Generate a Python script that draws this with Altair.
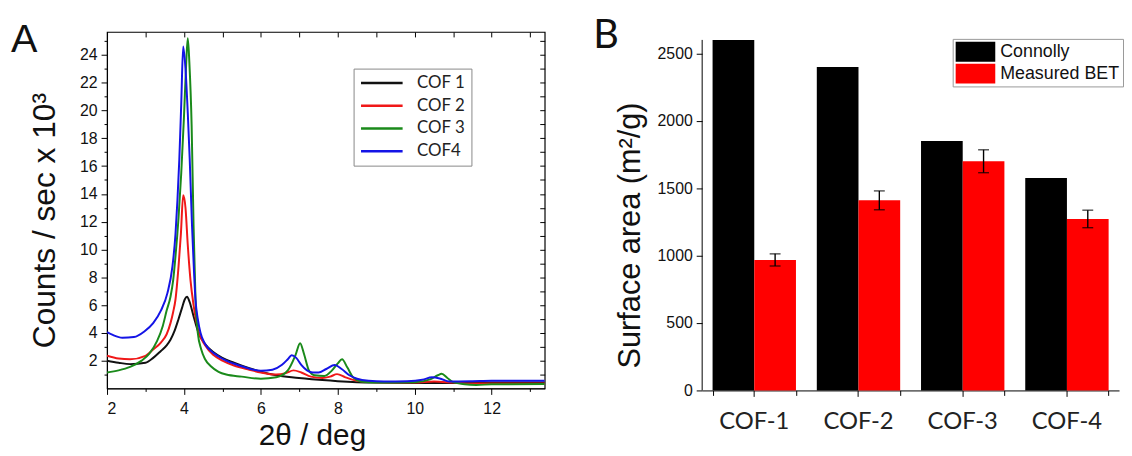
import altair as alt
import pandas as pd

# ---------------- Panel A data (XRD patterns) ----------------
cof1_x = [2.0, 2.3, 2.6, 3.0, 3.2, 3.4, 3.55, 3.65, 3.75, 3.86, 3.95, 4.02, 4.08, 4.15, 4.25, 4.38, 4.55,
          4.77, 5.0, 5.3, 5.7, 6.0, 6.4, 6.8, 7.2, 7.6, 8.0, 8.5, 9.0, 10.0, 11.0, 12.0, 13.38]
cof1_y = [2.0, 1.85, 1.75, 1.85, 2.2, 2.7, 3.1, 3.5, 4.1, 5.0, 5.8, 6.4, 6.6, 6.2, 5.2, 4.0, 3.2,
          2.6, 2.2, 1.85, 1.45, 1.2, 0.95, 0.8, 0.7, 0.6, 0.52, 0.45, 0.42, 0.4, 0.4, 0.42, 0.42]

cof2_x = [2.0, 2.3, 2.6, 3.0, 3.2, 3.4, 3.55, 3.65, 3.72, 3.78, 3.86, 3.92, 3.98, 4.04, 4.1, 4.17, 4.25,
          4.38, 4.55, 4.77, 5.0, 5.3, 5.7, 6.0, 6.4, 6.65, 6.85, 7.05, 7.3, 7.6, 7.8, 7.98, 8.2, 8.5,
          9.0, 10.0, 10.5, 11.0, 11.5, 12.0, 13.38]
cof2_y = [2.35, 2.15, 2.1, 2.35, 2.8, 3.3, 3.9, 4.7, 5.5, 6.4, 8.8, 11.1, 13.9, 13.0, 10.3, 7.8, 6.0,
          4.1, 3.1, 2.4, 2.0, 1.65, 1.35, 1.15, 1.0, 1.1, 1.3, 1.15, 0.85, 0.75, 0.85, 1.03, 0.8, 0.55,
          0.45, 0.42, 0.5, 0.42, 0.35, 0.35, 0.35]

cof3_x = [2.0, 2.3, 2.6, 2.9, 3.1, 3.3, 3.45, 3.55, 3.65, 3.72, 3.78, 3.86, 3.93, 4.0, 4.06, 4.1, 4.14,
          4.2, 4.25, 4.3, 4.36, 4.45, 4.55, 4.7, 4.9, 5.1, 5.5, 6.0, 6.4, 6.7, 6.9, 7.02, 7.12, 7.25,
          7.4, 7.65, 7.85, 8.0, 8.11, 8.25, 8.4, 8.6, 9.0, 10.0, 10.4, 10.6, 10.7, 10.85, 11.0, 11.3,
          11.6, 12.0, 13.38]
cof3_y = [1.15, 1.3, 1.55, 2.0, 2.5, 3.4, 4.5, 5.6, 6.6, 7.8, 9.5, 12.3, 15.5, 19.5, 23.5, 25.2, 23.5,
          18.9, 11.7, 6.5, 4.0, 2.8, 2.1, 1.6, 1.2, 1.0, 0.85, 0.7, 0.8, 1.3, 2.4, 3.25, 2.5, 1.3,
          0.95, 0.9, 1.3, 1.8, 2.1, 1.5, 0.8, 0.5, 0.42, 0.45, 0.65, 0.95, 1.05, 0.75, 0.45, 0.3,
          0.25, 0.3, 0.32]

cof4_x = [2.0, 2.15, 2.4, 2.7, 2.97, 3.2, 3.4, 3.57, 3.7, 3.78, 3.83, 3.88, 3.93, 3.98, 4.04, 4.1, 4.15,
          4.21, 4.26, 4.3, 4.36, 4.43, 4.55, 4.7, 4.9, 5.1, 5.5, 6.0, 6.3, 6.55, 6.7, 6.8, 6.92, 7.05,
          7.2, 7.35, 7.5, 7.7, 7.92, 8.1, 8.3, 8.5, 8.8, 9.2, 9.8, 10.2, 10.45, 10.65, 10.9, 11.5,
          12.0, 13.38]
cof4_y = [4.05, 3.85, 3.65, 3.7, 4.1, 4.7, 5.6, 6.86, 8.76, 11.1, 13.5, 16.5, 20.5, 24.6, 23.0, 19.8, 16.5,
          11.7, 8.5, 6.4, 5.0, 4.0, 3.2, 2.7, 2.3, 2.0, 1.6, 1.27, 1.35, 1.7, 2.1, 2.39, 2.2, 1.7,
          1.3, 1.15, 1.15, 1.4, 1.68, 1.4, 0.95, 0.7, 0.55, 0.5, 0.52, 0.62, 0.8, 0.72, 0.5, 0.52,
          0.55, 0.55]

series_names = ["COF 1", "COF 2", "COF 3", "COF4"]
series_colors = ["#111111", "#f01818", "#1a8a1a", "#1414e6"]

rows = []
for name, xs, ys in zip(series_names, [cof1_x, cof2_x, cof3_x, cof4_x], [cof1_y, cof2_y, cof3_y, cof4_y]):
    for i, (xv, yv) in enumerate(zip(xs, ys)):
        rows.append({"series": name, "x": xv, "y": yv, "order": i})
dfA = pd.DataFrame(rows)

# ---------------- Panel B data (surface areas) ----------------
materials = ["COF-1", "COF-2", "COF-3", "COF-4"]
connolly = [2600, 2400, 1850, 1575]
bet = [968, 1410, 1700, 1272]
bet_err = [45, 70, 85, 65]
groups = ["Connolly", "Measured BET"]
group_colors = ["#000000", "#ff0000"]

dfB = pd.DataFrame(
    [{"cat": m, "grp": "Connolly", "value": v} for m, v in zip(materials, connolly)]
    + [{"cat": m, "grp": "Measured BET", "value": v} for m, v in zip(materials, bet)]
)
dfE = pd.DataFrame({
    "cat": materials,
    "grp": ["Measured BET"] * 4,
    "lo": [v - e for v, e in zip(bet, bet_err)],
    "hi": [v + e for v, e in zip(bet, bet_err)],
})
dfAxis = pd.DataFrame({"lo": [0], "hi": [connolly[0]]})

SANS = "Liberation Sans"
A_W, A_H = 442, 360
B_W, B_H = 421, 362

x_scale_A = alt.Scale(domain=[2, 13.38], nice=False, zero=False)
y_scale_A = alt.Scale(domain=[0, 25.65], nice=False, zero=False)

even_tick = {"condition": {"test": "datum.value % 2 === 0", "value": 6}, "value": 3}

baseA = alt.Chart(dfA)
linesA = baseA.mark_line(strokeWidth=2, interpolate="monotone", clip=True).encode(
    x=alt.X("x:Q", scale=x_scale_A,
            axis=alt.Axis(values=list(range(2, 14)),
                          labelExpr="datum.value % 2 === 0 ? datum.label : ''",
                          tickSize=even_tick, grid=False, domainColor="black", tickColor="black",
                          labelFont=SANS, labelFontSize=16, labelColor="#111", labelPadding=6,
                          title="2θ / deg", titleFont=SANS, titleFontSize=30, titleFontWeight="normal",
                          titleColor="#111", titleX=207, titleY=57, titleBaseline="alphabetic")),
    y=alt.Y("y:Q", scale=y_scale_A,
            axis=alt.Axis(values=list(range(1, 26)),
                          labelExpr="datum.value % 2 === 0 ? datum.label : ''",
                          tickSize=even_tick, grid=False, domainColor="black", tickColor="black",
                          labelFont=SANS, labelFontSize=16, labelColor="#111", labelPadding=4,
                          title="Counts / sec x 10³", titleFont=SANS, titleFontSize=32,
                          titleFontWeight="normal", titleColor="#111", titleX=-53, titleY=190,
                          titleBaseline="alphabetic")),
    color=alt.Color("series:N",
                    scale=alt.Scale(domain=series_names, range=series_colors),
                    legend=alt.Legend(title=None, orient="none", legendX=249, legendY=37,
                                      symbolType="M-1,0H5", symbolSize=196, symbolStrokeWidth=2.5,
                                      labelFont="Lato", labelFontSize=17, labelColor="#222",
                                      labelOffset=41, padding=6, rowPadding=5,
                                      strokeColor="#888", fillColor="white")),
    order="order:Q",
)
mirrorA = baseA.mark_line(strokeOpacity=0).encode(
    x=alt.X("x:Q", scale=x_scale_A,
            axis=alt.Axis(orient="top", values=list(range(2, 14)), labels=False, domain=False,
                          tickSize=5, offset=-5, grid=False, title=None, tickColor="black")),
    y=alt.Y("y:Q", scale=y_scale_A,
            axis=alt.Axis(orient="right", values=list(range(1, 26)), labels=False, domain=False,
                          tickSize=5, offset=-5, grid=False, title=None, tickColor="black")),
    detail="series:N",
)
panelA = alt.layer(linesA, mirrorA).resolve_axis(x="independent", y="independent").properties(
    width=A_W, height=A_H,
    view=alt.ViewBackground(stroke="black", strokeWidth=1.2),
    title=alt.TitleParams("A", anchor="start", frame="group", fontSize=40, font=SANS,
                          fontWeight="normal", color="#111", dx=-97, dy=61, offset=0,
                          baseline="alphabetic"),
)

y_scale_B = alt.Scale(domain=[0, 2659], nice=False, zero=True)
x_scale_B = alt.Scale(paddingInner=0.2, paddingOuter=0.1)
x_B = alt.X("cat:N", sort=materials, scale=x_scale_B,
            axis=alt.Axis(orient="bottom", title=None, labelAngle=0, labelFont="Lato", labelFontSize=24,
                          labelColor="#222", tickSize=6, labelPadding=13, domainColor="black",
                          tickColor="black", grid=False))
x_B_edges = alt.X("cat:N", sort=materials, scale=x_scale_B,
                  axis=alt.Axis(orient="bottom", title=None, labels=False, domain=False,
                                tickBand="extent", tickSize=5, tickColor="black", grid=False))
x_B_plain = alt.X("cat:N", sort=materials, scale=x_scale_B, axis=None)
xoff_B = alt.XOffset("grp:N", sort=groups, scale=alt.Scale(paddingInner=0, paddingOuter=0))

barsB = alt.Chart(dfB).mark_bar().encode(
    x=x_B,
    xOffset=xoff_B,
    y=alt.Y("value:Q", scale=y_scale_B,
            axis=alt.Axis(values=list(range(0, 2501, 250)), format="d",
                          labelExpr="datum.value % 500 === 0 ? datum.label : ''",
                          tickSize={"condition": {"test": "datum.value % 500 === 0", "value": 6}, "value": 3},
                          domain=False, grid=False, tickColor="black",
                          labelFont=SANS, labelFontSize=16, labelColor="#111", labelPadding=4,
                          title="Surface area (m²/g)", titleFont=SANS, titleFontSize=31,
                          titleFontWeight="normal", titleColor="#111", titleX=-63, titleY=205,
                          titleBaseline="alphabetic")),
    color=alt.Color("grp:N", scale=alt.Scale(domain=groups, range=group_colors),
                    legend=alt.Legend(title=None, orient="none", legendX=253, legendY=7,
                                      symbolType="M-1,-1H3V1H-1Z", symbolSize=400,
                                      symbolStrokeWidth=0, labelFont=SANS, labelFontSize=18,
                                      labelColor="#111", labelOffset=25, padding=3, rowPadding=2,
                                      strokeColor="#999", fillColor="white")),
)
errRule = alt.Chart(dfE).mark_rule(color="black", strokeWidth=1.4).encode(
    x=x_B_edges, xOffset=xoff_B,
    y=alt.Y("lo:Q", scale=y_scale_B), y2="hi:Q",
)
errLo = alt.Chart(dfE).mark_tick(color="black", thickness=1.4, size=11).encode(
    x=x_B_plain, xOffset=xoff_B, y=alt.Y("lo:Q", scale=y_scale_B),
)
errHi = alt.Chart(dfE).mark_tick(color="black", thickness=1.4, size=11).encode(
    x=x_B_plain, xOffset=xoff_B, y=alt.Y("hi:Q", scale=y_scale_B),
)
axisLineB = alt.Chart(dfAxis).mark_rule(color="black", strokeWidth=1).encode(
    x=alt.value(0),
    y=alt.Y("lo:Q", scale=y_scale_B), y2="hi:Q",
)
panelB = alt.layer(barsB, errRule, errLo, errHi, axisLineB).resolve_axis(x="independent").properties(
    width=B_W, height=B_H,
    title=alt.TitleParams("B", anchor="start", frame="group", fontSize=40, font="Lato",
                          fontWeight="normal", color="#111", dx=-110, dy=56, offset=0,
                          baseline="alphabetic"),
)

chart = alt.hconcat(panelA, panelB, spacing=159, bounds="flush").resolve_scale(
    color="independent"
).properties(
    padding={"left": 2, "top": 6, "right": 0, "bottom": 0},
    background="white",
).configure_view(strokeWidth=0)

chart.save("out.html", embed_options={"renderer": "svg", "actions": False})
